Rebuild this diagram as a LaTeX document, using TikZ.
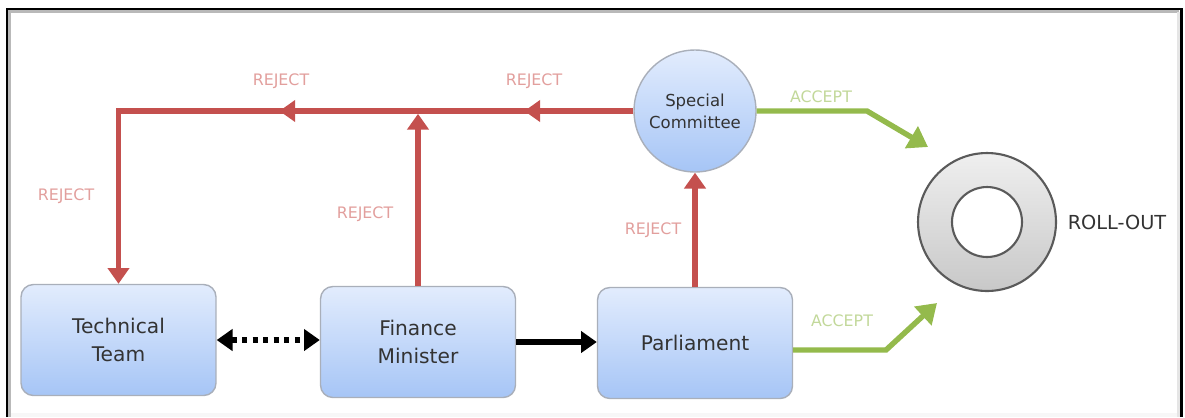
\documentclass[tikz,border=0pt]{standalone}
\usepackage{fontspec}
\setmainfont{DejaVu Sans}
\usetikzlibrary{arrows.meta,positioning,decorations.markings}

\definecolor{rejred}{HTML}{C4504E}
\definecolor{rejlbl}{HTML}{E29F9D}
\definecolor{accgreen}{HTML}{94BA4C}
\definecolor{acclbl}{HTML}{C2D89A}
\definecolor{boxtop}{HTML}{E2ECFD}
\definecolor{boxbot}{HTML}{A6C5F6}
\definecolor{boxline}{HTML}{A9AFBA}
\definecolor{ringtop}{HTML}{EFEFEF}
\definecolor{ringbot}{HTML}{C8C8C8}
\definecolor{ringline}{HTML}{5A5A5A}
\definecolor{txtgray}{HTML}{333333}

\begin{document}
\begin{tikzpicture}[
    x=0.02cm, y=-0.02cm,
    stagebox/.style={draw=boxline, line width=0.8pt, rounded corners=7pt,
        top color=boxtop, bottom color=boxbot, minimum width=3.9cm,
        minimum height=2.22cm, align=center, text=txtgray,
        font=\fontsize{11.5}{16.4}\selectfont},
    cmtcircle/.style={circle, draw=boxline, line width=0.8pt,
        top color=boxtop, bottom color=boxbot, minimum size=2.44cm,
        inner sep=0pt, align=center, text=txtgray,
        font=\fontsize{9.4}{12.5}\selectfont},
    rollring/.style={circle, draw=ringline, line width=1.2pt,
        top color=ringtop, bottom color=ringbot, minimum size=2.76cm, inner sep=0pt},
    rollhole/.style={circle, draw=ringline, line width=1.2pt, fill=white,
        minimum size=1.4cm, inner sep=0pt},
    rejectline/.style={draw=rejred, line width=3.1pt, -{Triangle[length=9pt,width=12pt]}},
    acceptline/.style={draw=accgreen, line width=3.1pt, -{Triangle[length=11pt,width=14pt]}},
    blackline/.style={draw=black, line width=3.1pt},
    rejectlbl/.style={text=rejlbl, font=\fontsize{9}{10}\selectfont},
    acceptlbl/.style={text=acclbl, font=\fontsize{9}{10}\selectfont}
]
\useasboundingbox (0,0) rectangle (1185,417);

% frame
\fill[gray!6] (10,413) rectangle (1179,417);
\draw[gray!55, line width=1.4pt] (9.5,417) -- (9.5,11.5) -- (1179,11.5);
\draw[gray!20, line width=1.2pt] (1178.5,11.5) -- (1178.5,417);
\draw[black, line width=1.6pt] (7,417) -- (7,9) -- (1181.5,9) -- (1181.5,417);

% stages
\node[stagebox] (tt) at (118.5,340) {Technical\\Team};
\node[stagebox] (fm) at (418,342) {Finance\\Minister};
\node[stagebox] (parl) at (695,343) {Parliament};
\node[cmtcircle] (sc) at (695,111) {Special\\Committee};

% roll-out
\node[rollring] (roll) at (987,222) {};
\node[rollhole] (hole) at (roll.center) {};
\node[right=0.09cm of roll, text=txtgray, font=\fontsize{11}{13}\selectfont] (rolllbl) {ROLL-OUT};

% bend points
\coordinate (acc1) at (867,111);
\coordinate (acc1tip) at (928,147);
\coordinate (acc2) at (886,350);
\coordinate (acc2tip) at (937,303);

% reject paths
\draw[rejectline, postaction={decorate, decoration={markings,
        mark=at position 2.18cm with {\arrow{Triangle[length=9pt,width=12pt]}},
        mark=at position 7.08cm with {\arrow{Triangle[length=9pt,width=12pt]}}}}]
    (sc.west) -| (tt.north);
\draw[rejectline, shorten >=1.6pt] (fm.north) -- (fm.north |- sc.west);
\draw[rejectline] (parl.north) -- (sc.south);

% accept paths
\draw[acceptline] (sc.east) -- (acc1) -- (acc1tip);
\draw[acceptline] ([yshift=-0.14cm]parl.east) -- (acc2) -- (acc2tip);

% black arrows
\draw[blackline, dash pattern=on 3pt off 3pt,
    {Triangle[length=9pt,width=12pt]}-{Triangle[length=9pt,width=12pt]}]
    (tt.east) -- (tt.east -| fm.west);
\draw[blackline, -{Triangle[length=9pt,width=12pt]}] (fm.east) -- (fm.east -| parl.west);

% labels
\node[rejectlbl] (rj1) at (281,81) {REJECT};
\node[rejectlbl] (rj2) at (534,81) {REJECT};
\node[rejectlbl] (rj3) at (66,196) {REJECT};
\node[rejectlbl] (rj4) at (365,214) {REJECT};
\node[rejectlbl] (rj5) at (653,230) {REJECT};
\node[acceptlbl] (ac1) at (821,97) {ACCEPT};
\node[acceptlbl] (ac2) at (842,321) {ACCEPT};

\end{tikzpicture}
\end{document}
